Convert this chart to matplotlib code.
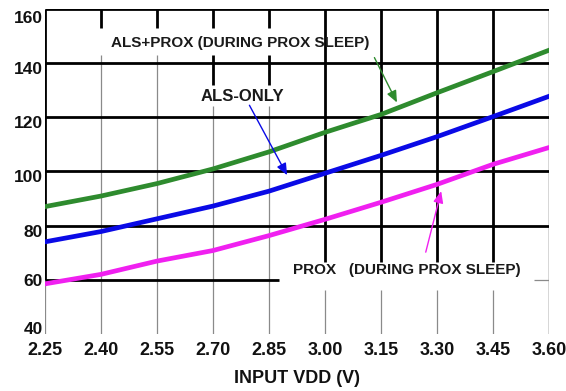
import matplotlib
matplotlib.use("Agg")
import matplotlib.pyplot as plt
from matplotlib.transforms import ScaledTranslation

# supply current vs input voltage
vdd = [2.25, 2.40, 2.55, 2.70, 2.85, 3.00, 3.15, 3.30, 3.45, 3.60]
als_prox = [87.0, 90.9, 95.5, 100.9, 107.2, 114.4, 121.0, 129.0, 136.8, 144.7]
als_only = [74.0, 77.8, 82.5, 87.2, 92.7, 99.3, 105.9, 112.8, 120.2, 127.7]
prox = [58.5, 62.0, 66.9, 70.8, 76.3, 82.3, 88.6, 95.2, 102.6, 108.8]

x_ticks = ["2.25", "2.40", "2.55", "2.70", "2.85", "3.00", "3.15", "3.30", "3.45", "3.60"]
y_ticks = [40, 60, 80, 100, 120, 140, 160]

plt.rcParams['font.family'] = ['Liberation Sans', 'DejaVu Sans']

fig = plt.figure(figsize=(5.66, 3.91), dpi=100)
ax = fig.add_axes([0.0795, 0.1458, 0.8905, 0.8318])
ax.set_xlim(2.25, 3.60)
ax.set_ylim(40, 160)
for s in ax.spines.values():
    s.set_visible(False)

thick = dict(color='black', lw=2.0, capstyle='butt', zorder=2)
thin = dict(color='#8a8a8a', lw=0.9, zorder=1)
xv = [float(t) for t in x_ticks]

# thin gray verticals (lower parts, below the labels)
ax.vlines([xv[1], xv[2]], 40, 143, **thin)
ax.vlines([xv[3], xv[4]], 40, 124, **thin)
ax.vlines(xv[5:9], 40, 56.3, **thin)
ax.vlines(xv[0], 40, 60, **thin)
ax.vlines(xv[9], 40, 160, color='#333333', lw=1.0, zorder=1)

# thick black verticals
ax.vlines(xv[0], 60, 160, **thick)
ax.vlines(xv[1:5], 153, 160, **thick)
ax.vlines([xv[3], xv[4]], 132, 143, **thick)
ax.vlines(xv[5:9], 66.6, 160, **thick)

# thick horizontals
ax.hlines([80, 100, 120, 140, 160], 2.25, 3.60, **thick)
ax.hlines(60, 2.25, 2.877, **thick)
ax.hlines(60, 3.56, 3.60, **thin)

ax.plot(vdd, als_prox, color='#2e8b2e', lw=3.4, zorder=3)
ax.plot(vdd, als_only, color='#0a0ae6', lw=3.4, zorder=3)
ax.plot(vdd, prox, color='#f020f0', lw=3.4, zorder=3)

ax.set_xticks(xv)
ax.set_xticklabels(x_ticks, fontsize=13, fontweight='bold', color='#111111')
ax.set_yticks(y_ticks)
ax.set_yticklabels([str(v) for v in y_ticks], fontsize=12.5, fontweight='bold', color='#111111')
ax.tick_params(axis='both', length=0)
ax.tick_params(axis='x', pad=6)
ax.tick_params(axis='y', pad=1.5)
# nudge y labels the way they sit in the original (pixels, + is up)
nudges = [6, 0, -5, -5, -5, -5, -8]
for lab, dy in zip(ax.get_yticklabels(), nudges):
    lab.set_transform(lab.get_transform() + ScaledTranslation(0, dy / 100, fig.dpi_scale_trans))
ax.set_xlabel("INPUT VDD (V)", fontsize=13, fontweight='bold', labelpad=8, color='#111111')

ax.text(2.772, 147.4, "ALS+PROX (DURING PROX SLEEP)", fontsize=11, fontweight='bold',
        color='#1a1a1a', ha='center', va='center', zorder=4)
ax.text(2.778, 127.8, "ALS-ONLY", fontsize=12, fontweight='bold',
        color='#1a1a1a', ha='center', va='center', zorder=4)
ax.text(3.220, 63.7, "PROX   (DURING PROX SLEEP)", fontsize=11, fontweight='bold',
        color='#1a1a1a', ha='center', va='center', zorder=4)

arrow = dict(arrowstyle='-|>,head_length=0.7,head_width=0.3', lw=1.0)
ax.annotate("", xy=(3.196, 124.5), xytext=(3.129, 142.9),
            arrowprops=dict(color='#2e8b2e', **arrow), zorder=5)
ax.annotate("", xy=(2.902, 97.7), xytext=(2.794, 125.3),
            arrowprops=dict(color='#0a0ae6', **arrow), zorder=5)
ax.annotate("", xy=(3.313, 93.7), xytext=(3.268, 69.2),
            arrowprops=dict(color='#f020f0', **arrow), zorder=5)

fig.savefig("out.png", dpi=100)
